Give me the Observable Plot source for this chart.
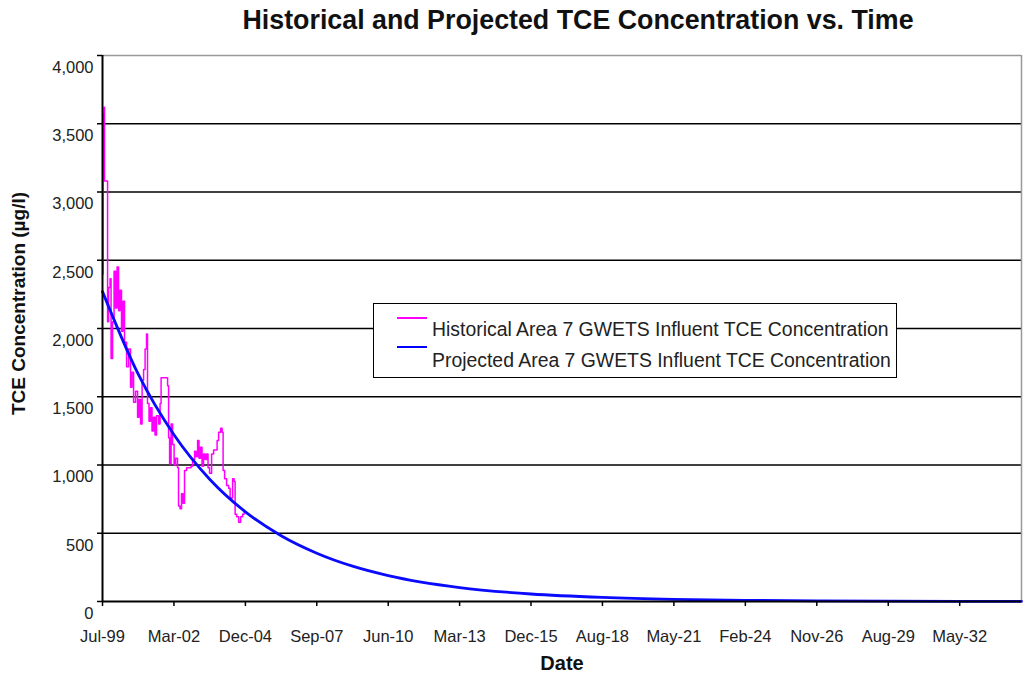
<!DOCTYPE html>
<html>
<head>
<meta charset="utf-8">
<script src="https://cdn.jsdelivr.net/npm/d3@7"></script>
<script src="https://cdn.jsdelivr.net/npm/@observablehq/plot@0.6"></script>
<style>
  body { margin: 0; background: #fff; font-family: "Liberation Sans", Arial, sans-serif; }
  #wrap { position: relative; width: 1023px; height: 675px; overflow: hidden; }
  #title { height: 42px; line-height: 40px; font-size: 26.8px; font-weight: bold; color: #111; white-space: nowrap; position: relative; }
  #title span { position: absolute; left: 578px; transform: translateX(-50%); top: 0; }
  #legend { position: absolute; left: 373px; top: 303px; width: 522px; height: 73px; border: 1px solid #000; background: #fff; }
  #legend .sw { position: absolute; left: 23px; width: 30px; height: 0; }
  #legend .lab { position: absolute; left: 58px; font-size: 19.4px; color: #222; white-space: nowrap; line-height: 20px; }
  svg g[aria-label$="tick label"] { fill: #222; }
</style>
</head>
<body>
<div id="wrap">
  <div id="title"><span>Historical and Projected TCE Concentration vs. Time</span></div>
  <div id="chart"></div>
  <div id="legend">
    <div class="sw" style="top:13px;border-top:2px solid #ff00ff"></div>
    <div class="lab" style="top:15px">Historical Area 7 GWETS Influent TCE Concentration</div>
    <div class="sw" style="top:42px;border-top:2px solid #0000ff"></div>
    <div class="lab" style="top:46px">Projected Area 7 GWETS Influent TCE Concentration</div>
  </div>
</div>
<script>
// Historical influent TCE concentration (µg/l)
const historyDates = [
  "1999-07-01","1999-07-08","1999-07-22","1999-07-29","1999-08-26","1999-09-10","1999-09-24","1999-10-15",
  "1999-10-29","1999-11-19","1999-12-10","1999-12-31","2000-01-21","2000-02-11","2000-03-02","2000-03-23",
  "2000-04-13","2000-05-04","2000-06-02","2000-06-30","2000-07-27","2000-08-17","2000-09-08","2000-10-06",
  "2000-11-03","2000-11-24","2000-12-15","2001-01-05","2001-01-26","2001-02-16","2001-03-08","2001-03-22",
  "2001-04-12","2001-05-03","2001-05-24","2001-06-14","2001-07-05","2001-07-26","2001-08-24","2001-09-14",
  "2001-09-28","2001-11-02","2001-12-14","2001-12-28","2002-01-11","2002-01-25","2002-02-15","2002-03-08",
  "2002-03-29","2002-04-19","2002-05-16","2002-05-30","2002-06-20","2002-07-11","2002-08-01","2002-08-22",
  "2002-09-20","2002-10-25","2002-11-22","2002-12-13","2003-01-10","2003-01-31","2003-02-21","2003-03-13",
  "2003-04-03","2003-04-24","2003-05-15","2003-06-05","2003-06-26","2003-07-17","2003-08-07","2003-09-05",
  "2003-10-03","2003-10-31","2003-11-21","2003-12-12","2004-01-09","2004-01-30","2004-02-13","2004-03-05",
  "2004-04-02","2004-04-30","2004-05-21","2004-06-11","2004-06-25","2004-07-16","2004-07-30","2004-08-20",
  "2004-09-17","2004-10-15","2004-11-12","2004-12-03"
];
const historyValues = [
  2400, 3570, 3620, 3080, 3080, 2050, 2300, 2365,
  1780, 2050, 2420, 2150, 2450, 2130, 2280, 1980,
  2200, 1900, 1720, 1850, 1570, 1680, 1460, 1540,
  1350, 1480, 1300, 1620, 1700, 1850, 1960, 1450,
  1320, 1420, 1250, 1350, 1220, 1360, 1300, 1450,
  1640, 1640, 1640, 1580, 1200, 1010, 1300, 1150,
  1000, 1050, 980, 700, 680, 790, 720, 960,
  980, 980, 990, 1040, 1100, 1060, 1180, 1050,
  1130, 990, 1080, 1040, 1080, 980, 940, 1080,
  1110, 1110, 1180, 1240, 1270, 1240, 960, 900,
  850, 830, 750, 760, 900, 880, 640, 620,
  580, 620, 640, 650
];

// Projected influent TCE concentration (µg/l)
const projectedDates = [
  "1999-07-01","2000-11-12","2002-03-27","2003-08-09","2004-12-21","2006-05-05","2007-09-16","2009-01-28",
  "2010-06-12","2013-03-07","2015-12-01","2018-08-27","2021-05-23","2024-02-17","2026-11-13","2029-08-09",
  "2032-05-05","2034-09-17"
];
const projectedValues = [
  2270, 1665, 1222, 896, 657, 482, 354, 259,
  190, 102, 55, 30, 16, 8.6, 4.6, 2.5,
  1.3, 0.8
];

// Axes
const xDomain = ["1999-07-01", "2034-09-17"];
const tickDates = [
  "1999-07-01","2002-03-27","2004-12-21","2007-09-16","2010-06-12","2013-03-07","2015-12-01",
  "2018-08-27","2021-05-23","2024-02-17","2026-11-13","2029-08-09","2032-05-05"
];
const tickLabels = [
  "Jul-99","Mar-02","Dec-04","Sep-07","Jun-10","Mar-13","Dec-15",
  "Aug-18","May-21","Feb-24","Nov-26","Aug-29","May-32"
];
const yTicks = [0, 500, 1000, 1500, 2000, 2500, 3000, 3500, 4000];
const gridValues = [500, 1000, 1500, 2000, 2500, 3000, 3500];

const history = historyDates.map((d, i) => ({date: new Date(d), value: historyValues[i]}));
const projected = projectedDates.map((d, i) => ({date: new Date(d), value: projectedValues[i]}));
const xTicks = tickDates.map(d => new Date(d));
const labelByTime = new Map(xTicks.map((d, i) => [+d, tickLabels[i]]));
const x0 = new Date(xDomain[0]), x1 = new Date(xDomain[1]);

const chart = Plot.plot({
  width: 1023,
  height: 633,
  marginTop: 13,
  marginBottom: 74,
  marginLeft: 102,
  marginRight: 2,
  style: {fontFamily: "'Liberation Sans', Arial, sans-serif", fontSize: "16.5px", color: "#000", background: "#fff"},
  x: {type: "utc", domain: [x0, x1]},
  y: {domain: [0, 4000]},
  marks: [
    Plot.ruleY(gridValues, {stroke: "#000", strokeWidth: 1.5}),
    Plot.ruleY([4000], {stroke: "#999", strokeWidth: 1.5}),
    Plot.ruleX([x1], {y1: 0, y2: 4000, stroke: "#999", strokeWidth: 1.5}),
    Plot.line(history, {x: "date", y: "value", stroke: "#ff00ff", strokeWidth: 1.5, curve: "step-after"}),
    Plot.line(projected, {x: "date", y: "value", stroke: "#0a0aff", strokeWidth: 2.8, curve: "monotone-x"}),
    Plot.ruleX([x0], {y1: 0, y2: 4000, stroke: "#000", strokeWidth: 2}),
    Plot.ruleY([0], {stroke: "#000", strokeWidth: 2}),
    Plot.axisX({ticks: xTicks, tickSize: 5, tickPadding: 24, tickFormat: d => labelByTime.get(+d), label: null, strokeWidth: 1.5}),
    Plot.axisY({ticks: yTicks, tickSize: 5, tickFormat: () => "", label: null, strokeWidth: 1.5}),
    Plot.axisY({ticks: yTicks, tickSize: 0, tickPadding: 9, tickFormat: d3.format(","), label: null, dy: 12}),
    Plot.text(["Date"], {frameAnchor: "bottom", dy: 68, fontWeight: "bold", fontSize: 20, fill: "#111"}),
    Plot.text(["TCE Concentration (µg/l)"], {frameAnchor: "left", textAnchor: "middle", rotate: -90, dx: -84, dy: -25, fontWeight: "bold", fontSize: 19, fill: "#111"})
  ]
});
document.getElementById("chart").appendChild(chart);
</script>
</body>
</html>
